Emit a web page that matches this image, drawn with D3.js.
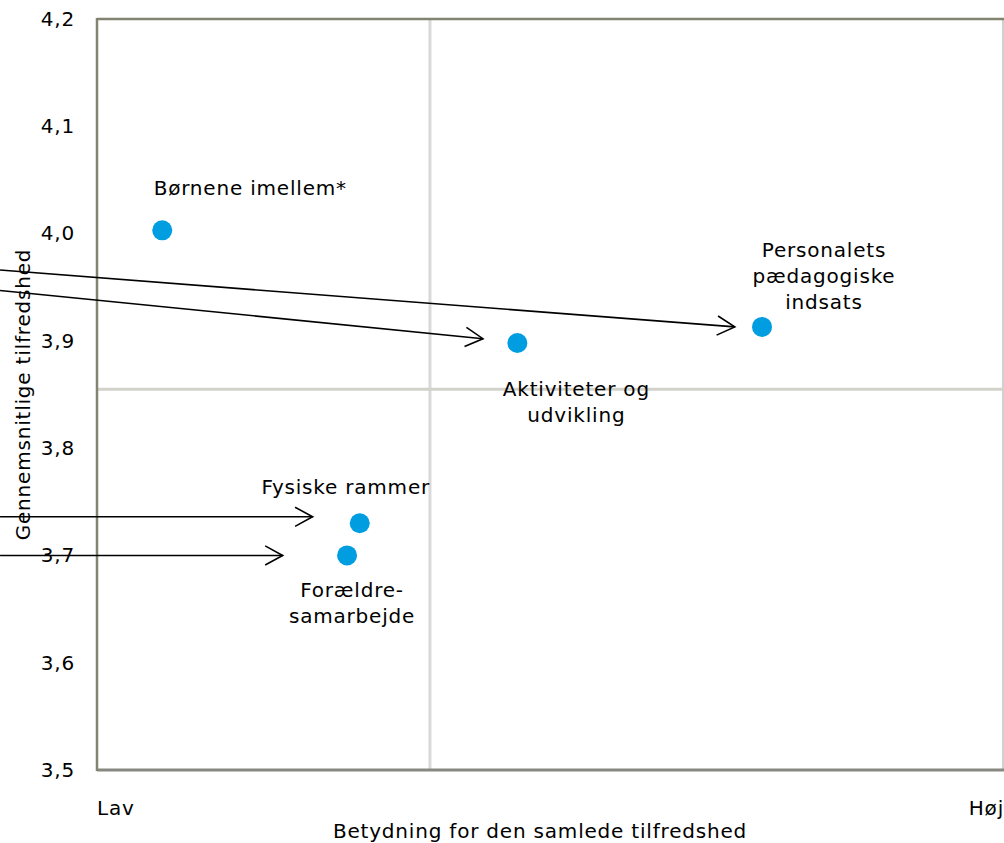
<!DOCTYPE html>
<html><head><meta charset="utf-8">
<script src="https://cdn.jsdelivr.net/npm/d3@7"></script>
<style>body{margin:0;background:#fff;} text{font-family:"DejaVu Sans",Verdana,sans-serif;letter-spacing:0.8px;}</style>
</head><body>
<svg id="c" width="1004" height="843"></svg>
<script>
const categories = ["Børnene imellem*", "Aktiviteter og udvikling", "Personalets pædagogiske indsats", "Fysiske rammer", "Forældresamarbejde"];
const labelLines = [["Børnene imellem*"], ["Aktiviteter og", "udvikling"], ["Personalets", "pædagogiske", "indsats"], ["Fysiske rammer"], ["Forældre-", "samarbejde"]];
const importance = [0.072, 0.464, 0.734, 0.290, 0.276];
const satisfaction = [4.003, 3.898, 3.913, 3.730, 3.700];
const yTicks = [3.5, 3.6, 3.7, 3.8, 3.9, 4.0, 4.1, 4.2];
const xLabels = ["Lav", "Høj"];
const meanImportance = 0.3675;
const meanSatisfaction = 3.855;
// arrows: [x, y] in data units
const arrowFrom = [[-0.107, 3.966], [-0.107, 3.947], [-0.107, 3.736], [-0.107, 3.700]];
const arrowTo = [[0.704, 3.913], [0.426, 3.902], [0.238, 3.736], [0.205, 3.700]];
// label offsets (dx, dy of first line centre, px)
const labelPos = [[88, -42], [59, 46], [62, -77], [-14, -36], [5, 35]];

const svg = d3.select("#c");
const L = 97, R = 1003, T = 19, B = 770;
const FS = 20;
const x = d3.scaleLinear().domain([0, 1]).range([L, R]);
const y = d3.scaleLinear().domain([3.5, 4.2]).range([B, T]);

// grid lines (means)
svg.append("line").attr("x1", x(meanImportance)).attr("x2", x(meanImportance)).attr("y1", T).attr("y2", B)
  .attr("stroke", "#d9d9d9").attr("stroke-width", 3);
svg.append("line").attr("x1", L).attr("x2", R).attr("y1", y(meanSatisfaction)).attr("y2", y(meanSatisfaction))
  .attr("stroke", "#d2d2ca").attr("stroke-width", 3);

// frame
svg.append("line").attr("x1", R).attr("x2", R).attr("y1", T).attr("y2", B).attr("stroke", "#d0d0d0").attr("stroke-width", 2);
svg.append("line").attr("x1", L).attr("x2", R + 1).attr("y1", T).attr("y2", T).attr("stroke", "#838372").attr("stroke-width", 2.5);
svg.append("line").attr("x1", L).attr("x2", R + 1).attr("y1", B).attr("y2", B).attr("stroke", "#888880").attr("stroke-width", 3);
svg.append("line").attr("x1", L).attr("x2", L).attr("y1", T - 1).attr("y2", B + 1).attr("stroke", "#838372").attr("stroke-width", 2.5);

// y axis
const yAxis = d3.axisLeft(y).tickValues(yTicks).tickSize(0).tickPadding(22)
  .tickFormat(d => d3.format(".1f")(d).replace(".", ","));
const ga = svg.append("g").attr("transform", `translate(${L},0)`).call(yAxis);
ga.select(".domain").remove();
ga.selectAll("text").attr("font-size", FS).attr("fill", "#000").attr("font-family", "DejaVu Sans");

// x labels
svg.append("text").attr("x", L).attr("y", 815).attr("font-size", FS).text(xLabels[0]);
svg.append("text").attr("x", R + 1).attr("y", 815).attr("text-anchor", "end").attr("font-size", FS).text(xLabels[1]);

// axis titles
svg.append("text").attr("x", 540).attr("y", 838).attr("text-anchor", "middle").attr("font-size", FS)
  .text("Betydning for den samlede tilfredshed");
svg.append("text").attr("transform", `translate(30,${(T + B) / 2}) rotate(-90)`).attr("text-anchor", "middle")
  .attr("font-size", FS).text("Gennemsnitlige tilfredshed");

// arrows
const ag = svg.append("g").attr("stroke", "#000").attr("fill", "none").attr("stroke-width", 1.6);
arrowFrom.forEach((f, i) => {
  const t = arrowTo[i];
  const x0 = x(f[0]), y0 = y(f[1]), x1 = x(t[0]), y1 = y(t[1]);
  ag.append("line").attr("x1", x0).attr("y1", y0).attr("x2", x1).attr("y2", y1);
  const a = Math.atan2(y1 - y0, x1 - x0), len = 20, w = 0.5;
  const p = [[x1 - len * Math.cos(a - w), y1 - len * Math.sin(a - w)], [x1, y1], [x1 - len * Math.cos(a + w), y1 - len * Math.sin(a + w)]];
  ag.append("path").attr("d", d3.line()(p));
});

// points
svg.append("g").selectAll("circle").data(categories).join("circle")
  .attr("cx", (d, i) => x(importance[i])).attr("cy", (d, i) => y(satisfaction[i])).attr("r", 10)
  .attr("fill", "#009ee0");

// labels
categories.forEach((c, i) => {
  const t = svg.append("text").attr("text-anchor", "middle").attr("font-size", FS).attr("fill", "#000");
  labelLines[i].forEach((ln, j) => {
    t.append("tspan").attr("x", x(importance[i]) + labelPos[i][0])
      .attr("y", y(satisfaction[i]) + labelPos[i][1] + j * 26).attr("dy", "0.35em").text(ln);
  });
});
</script>
</body></html>
